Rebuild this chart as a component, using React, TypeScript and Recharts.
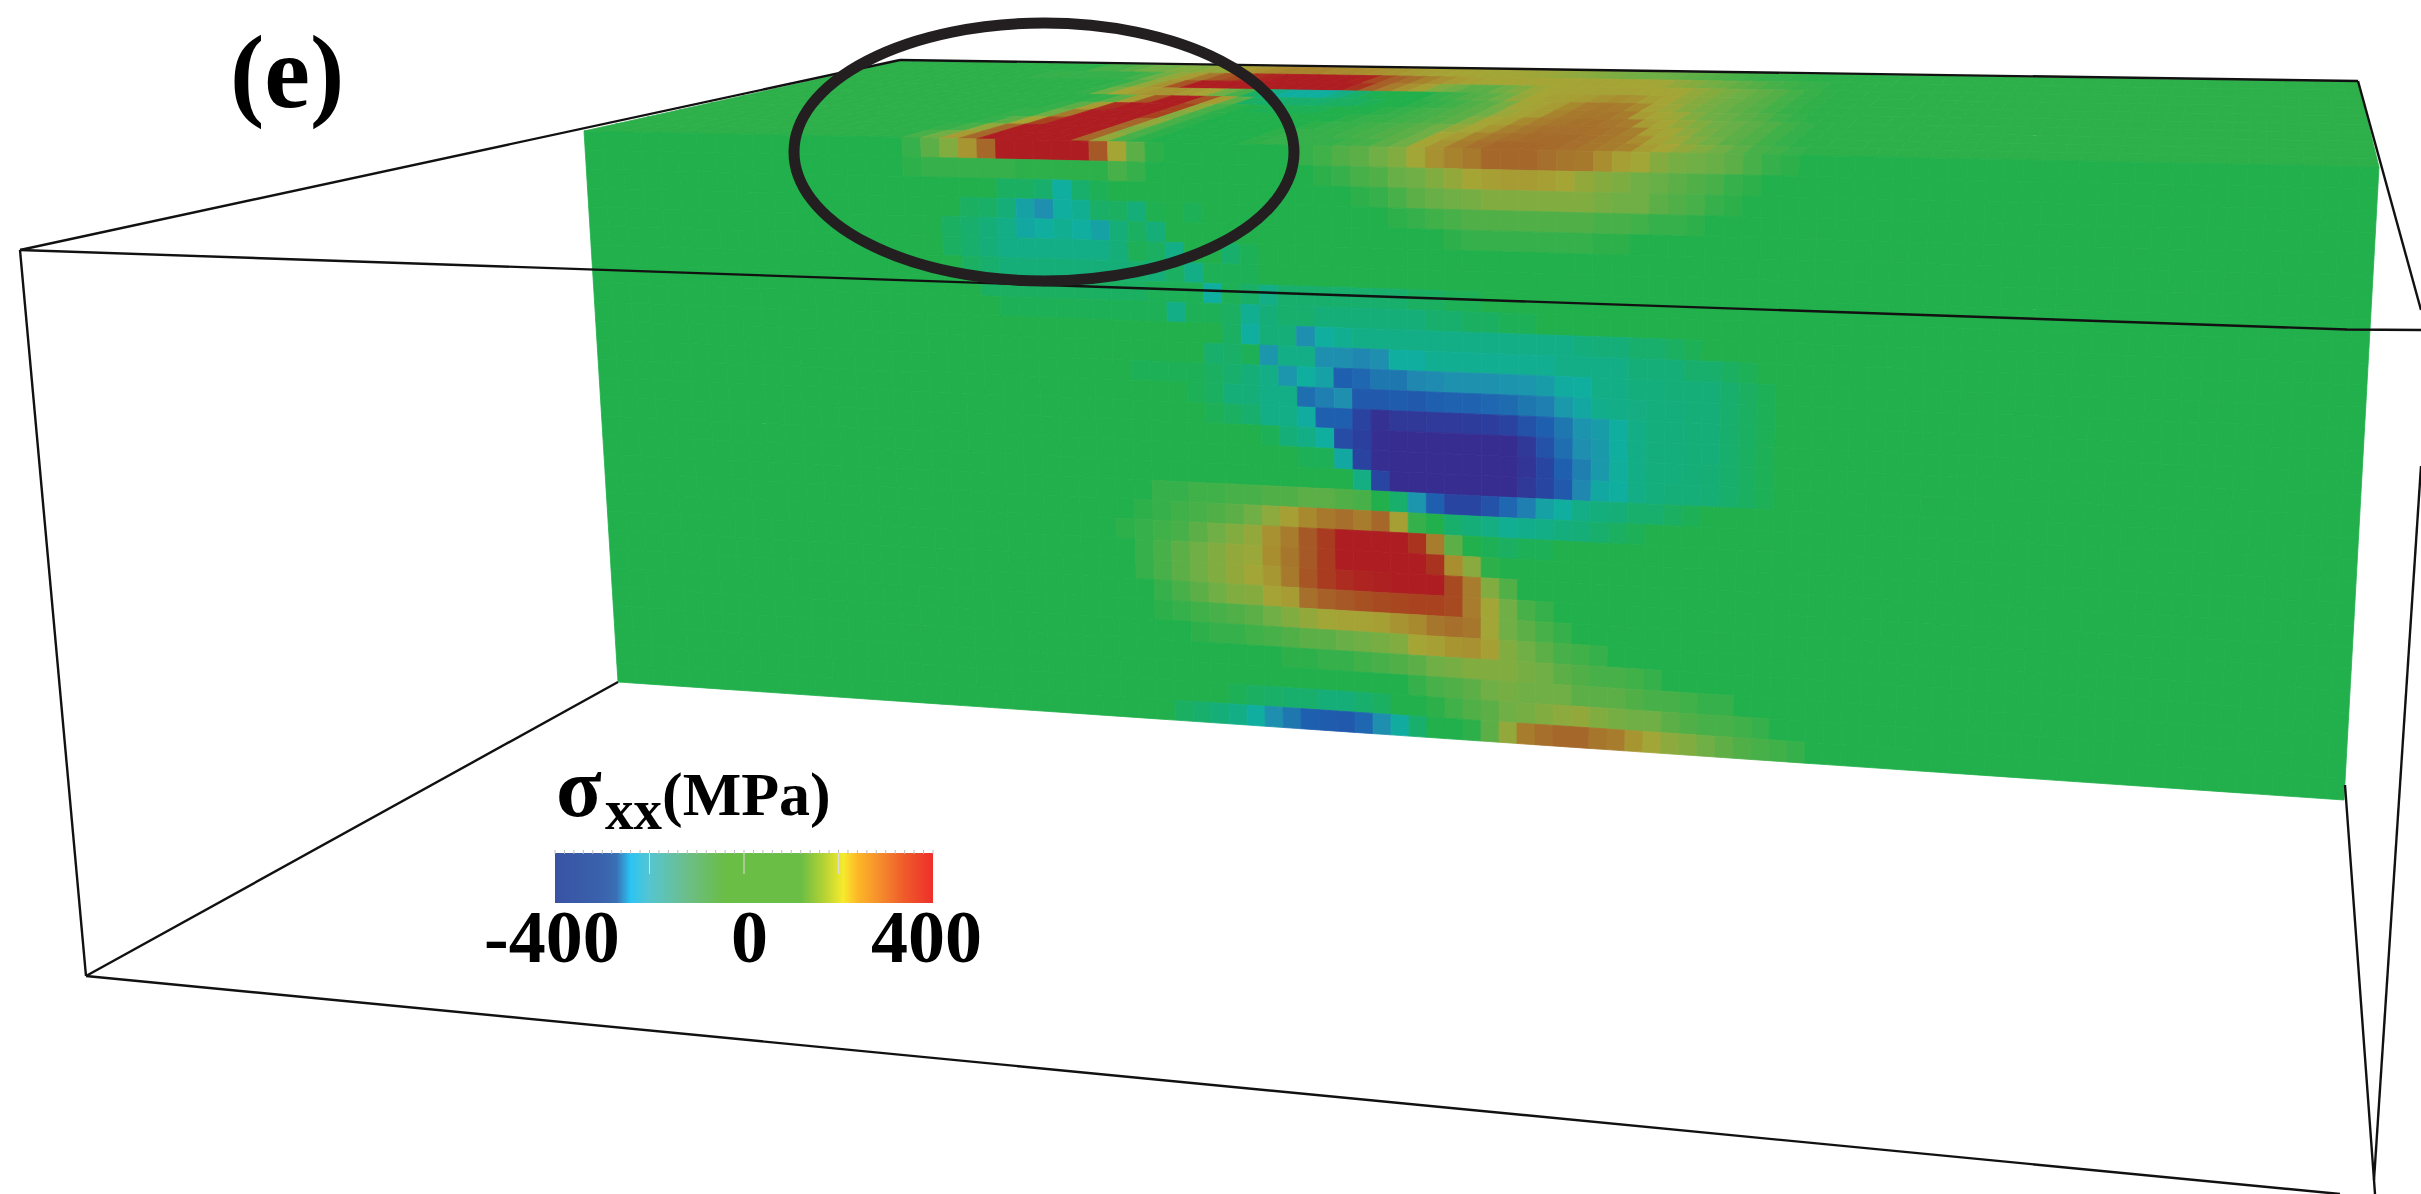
import React from 'react';
import { ScatterChart, Scatter, XAxis, YAxis, ReferenceArea } from 'recharts';

const W = 2421;
const H = 1194;

// colour scale of the field (MPa -> colour)
const fieldStops = [-400, -350, -300, -240, -175, -100, 0, 100, 175, 250, 300, 350, 400];
const fieldColors = ['#372d90', '#2b3f9e', '#1f5fb0', '#1f8fb0', '#10ae9e', '#15ae78', '#21b04b', '#6faf45', '#a5a536', '#a88a2e', '#a5682a', '#a8421f', '#ae1d22'];

// colour bar of the legend
const legendStops = [-400, -300, -270, -240, -200, -120, -40, 120, 170, 210, 240, 290, 340, 400];
const legendColors = ['#3953a4', '#3a62ad', '#3a70b5', '#2bc4f3', '#56c5d0', '#6cbe88', '#6abd45', '#6abd45', '#b5d334', '#f6eb2c', '#fdb827', '#f58a2c', '#ef5a2a', '#ee2f2a'];
const legendTicks = [-400, -380, -360, -340, -320, -300, -280, -260, -240, -220, -200, -180, -160, -140, -120, -100, -80, -60, -40, -20, 0, 20, 40, 60, 80, 100, 120, 140, 160, 180, 200, 220, 240, 260, 280, 300, 320, 340, 360, 380, 400];
const legendMajor = [-200, 0, 200];

// wireframe corners, in view units
const frontTop = [{ x: 20, y: 250 }, { x: 2347, y: 329.5 }, { x: 2421, y: 330 }];
const leftSlope = [{ x: 20, y: 250 }, { x: 900, y: 60 }];
const backTop = [{ x: 900, y: 60 }, { x: 2358, y: 81 }];
const rightSlope = [{ x: 2358, y: 81 }, { x: 2421, y: 310 }];
const frontLeft = [{ x: 20, y: 250 }, { x: 86, y: 976 }];
const floorLeft = [{ x: 86, y: 976 }, { x: 618, y: 682 }];
const frontBottom = [{ x: 86, y: 976 }, { x: 2340, y: 1194 }];
const backRight = [{ x: 2345, y: 785 }, { x: 2374, y: 1180 }, { x: 2375, y: 1194 }];
const frontRight = [{ x: 2421, y: 466 }, { x: 2374, y: 1180 }];
const wireEdges = [frontTop, leftSlope, backTop, rightSlope, frontLeft, floorLeft, frontBottom, backRight, frontRight];

// stress on the top face, rows back to front. topStart = first mesh column of each row
const topStart = [14, 12, 18, 18, 20, 19, 18, 18, 17, 16];
const top0 = [50, 50, 75, 100, 100, 125, 125, 150, 150, 200, 225, 250, 260, 260, 260, 250, 250, 240, 230, 220, 200, 190, 180, 175, 175, 170, 170, 170, 165, 160, 150, 140, 130, 120, 110, 100, 100, 90, 80, 70, 60, 50, 40, 30, 25, 20];
const top1 = [25, 25, 25, 25, 25, 25, 50, 100, 150, 200, 275, 320, 340, 375, 390, 400, 400, 400, 400, 400, 390, 340, 310, 290, 260, 230, 200, 185, 175, 175, 175, 175, 175, 175, 180, 180, 180, 175, 175, 170, 150, 130, 110, 95, 80, 65, 50, 40, 30, 25];
const top2 = [25, 75, 150, 225, 325, 400, 400, 400, 400, 400, 400, 400, 400, 400, 400, 370, 310, 270, 230, 190, 125, 100, 75, 75, 100, 125, 160, 175, 180, 180, 180, 180, 180, 175, 175, 170, 150, 130, 110, 95, 80, 65, 45, 30, 20];
const top3 = [25, 100, 175, 200, 225, 225, 200, 175, 100, 50, -50, -125, -175, -175, -175, -125, -75, -25, 0, 0, 0, 25, 40, 60, 75, 100, 150, 175, 185, 190, 200, 225, 240, 225, 190, 175, 150, 130, 110, 95, 80, 65, 45, 30, 20];
const top4 = [25, 75, 200, 325, 400, 400, 325, 200, 75, -50, -75, -75, -75, -75, -50, -50, -25, 0, 0, 15, 25, 40, 60, 75, 110, 170, 180, 200, 250, 270, 275, 270, 250, 180, 160, 130, 110, 95, 80, 65, 45, 30, 20];
const top5 = [25, 75, 200, 375, 400, 400, 400, 350, 150, 50, 15, 0, -25, -25, -25, -25, 0, 0, 0, 15, 25, 40, 50, 60, 75, 100, 160, 180, 200, 260, 275, 280, 280, 270, 200, 175, 160, 125, 100, 90, 75, 60, 40, 25];
const top6 = [25, 25, 100, 275, 400, 400, 400, 400, 350, 125, 50, 15, 0, 0, 0, 0, 0, 0, 0, 15, 25, 30, 40, 50, 60, 75, 125, 175, 190, 250, 270, 280, 285, 285, 280, 270, 200, 175, 150, 125, 100, 90, 75, 60, 40, 25];
const top7 = [25, 75, 175, 350, 400, 400, 400, 400, 300, 150, 50, 15, 0, 0, 0, 0, 0, 0, 15, 25, 30, 40, 50, 60, 75, 100, 150, 175, 220, 265, 280, 290, 290, 290, 285, 280, 265, 190, 170, 140, 110, 90, 75, 60, 40, 25];
const top8 = [25, 50, 150, 300, 400, 400, 400, 400, 400, 300, 125, 50, 15, 0, 0, 0, 0, 0, 15, 25, 25, 30, 40, 50, 60, 75, 100, 175, 200, 260, 280, 290, 295, 295, 295, 290, 280, 270, 240, 180, 160, 125, 100, 75, 60, 40, 25];
const top9 = [15, 50, 100, 200, 300, 400, 400, 400, 400, 400, 300, 150, 50, 15, 0, 0, 0, 0, 0, 15, 25, 25, 25, 25, 40, 50, 75, 100, 175, 225, 270, 290, 300, 300, 300, 295, 290, 280, 270, 260, 200, 175, 150, 125, 100, 75, 50, 40, 25];
const topRows = [top0, top1, top2, top3, top4, top5, top6, top7, top8, top9];

// stress on the long side face, rows top to bottom. sideStart = first mesh column of each row
const sideStart = [17, 17, 22, 20, 19, 19, 20, 21, 22, 34, 33, 29, 32, 33, 35, 38, 40, 30, 29, 28, 29, 29, 30, 30, 32, 37, 44, 34, 31];
const side00 = [25, 75, 125, 220, 300, 400, 400, 400, 400, 400, 320, 175, 75, 15, 0, 0, 0, 0, 0, 0, 0, 25, 40, 60, 75, 100, 125, 170, 230, 260, 275, 300, 300, 300, 290, 280, 275, 240, 190, 170, 130, 110, 100, 90, 75, 50, 25, 15];
const side01 = [15, 25, 25, 25, 25, 25, 15, 15, 15, 15, 15, 50, 25, 0, 0, 0, 0, 0, 0, 0, 0, 0, 15, 25, 50, 60, 90, 100, 125, 150, 175, 190, 200, 200, 190, 175, 150, 130, 120, 100, 90, 75, 60, 50, 25, 15];
const side02 = [-50, -50, -75, -175, -75, -25, 0, 0, 0, 0, 0, 0, 0, 0, 0, 0, 0, 0, 0, 15, 25, 50, 75, 90, 100, 110, 125, 125, 125, 125, 125, 125, 110, 100, 100, 75, 60, 50, 25, 15];
const side03 = [-50, -60, -100, -200, -240, -175, -150, -60, -50, -100, -15, 0, -25, 0, 0, 0, 0, 0, 0, 0, 0, 0, 0, 15, 25, 40, 50, 60, 60, 60, 60, 60, 60, 60, 50, 50, 40, 25, 25, 15];
const side04 = [-50, -75, -100, -125, -190, -175, -150, -175, -200, -100, -50, -100, 0, 0, 0, 0, 0, 0, 0, 0, 0, 0, 0, 0, 0, 0, 0, 15, 25, 25, 25, 25, 25, 25, 25, 15, 15];
const side05 = [-50, -75, -100, -125, -125, -125, -125, -125, -125, -100, -25, -50, -125, 0, 0, -75, -25];
const side06 = [-50, -75, -100, -100, -100, -100, -100, -100, -100, -75, -100, -50, -125, -25, -25, -25];
const side07 = [-50, -50, -50, -50, -50, -50, -50, -50, -50, -25, -25, -25, -175, -25, -60, -125, -75, -75, -75, -75, -75, -75, -75, -50, -50, -25, -25];
const side08 = [-25, -25, -25, -25, -25, -25, -25, -25, -25, -125, -25, -25, -50, -150, -100, -75, -75, -100, -100, -100, -100, -100, -100, -75, -75, -50, -50, -25, -25];
const side09 = [-50, -175, -100, -100, -240, -175, -150, -125, -125, -125, -125, -125, -125, -125, -125, -125, -125, -125, -125, -110, -100, -100, -75, -75, -50, -25];
const side10 = [-75, -60, -25, -225, -125, -125, -240, -240, -250, -240, -175, -175, -150, -150, -150, -150, -150, -150, -150, -125, -125, -125, -125, -100, -100, -100, -75, -75, -50, -25];
const side11 = [-25, -25, -25, -25, -50, -75, -100, -125, -225, -175, -200, -300, -290, -270, -270, -250, -245, -235, -235, -235, -230, -225, -210, -180, -175, -125, -125, -110, -110, -100, -100, -100, -75, -50, -25];
const side12 = [-25, -50, -100, -100, -125, -125, -280, -260, -240, -310, -310, -305, -310, -300, -295, -295, -290, -285, -270, -260, -220, -190, -140, -130, -120, -110, -110, -100, -100, -75, -50, -25];
const side13 = [-25, -50, -75, -125, -125, -180, -300, -300, -345, -390, -370, -370, -365, -365, -360, -355, -345, -320, -300, -270, -230, -210, -175, -125, -110, -110, -100, -100, -75, -50, -25];
const side14 = [0, -25, -100, -125, -175, -330, -350, -395, -400, -400, -400, -400, -400, -400, -400, -370, -320, -280, -240, -220, -175, -125, -110, -110, -100, -100, -75, -50, -25];
const side15 = [-25, -25, -190, -345, -395, -400, -400, -400, -400, -400, -400, -400, -380, -340, -300, -260, -220, -170, -125, -110, -110, -100, -90, -75, -50, -25];
const side16 = [0, -120, -340, -400, -400, -400, -400, -400, -400, -400, -370, -340, -310, -250, -190, -175, -125, -110, -100, -100, -90, -75, -50, -25];
const side17 = [25, 25, 40, 40, 50, 50, 60, 60, 75, 75, 60, 50, 0, -75, -225, -300, -340, -340, -320, -290, -260, -200, -175, -125, -110, -100, -75, -75, -50, -25];
const side18 = [15, 25, 40, 50, 60, 75, 100, 140, 190, 250, 275, 290, 270, 300, 190, 25, 0, -75, -100, -120, -150, -140, -125, -110, -100, -75, -50, -25];
const side19 = [15, 25, 40, 50, 75, 100, 125, 150, 230, 270, 320, 360, 400, 400, 400, 400, 370, 270, 75, 0, -25, -50, -25, -25];
const side20 = [25, 50, 75, 100, 125, 150, 160, 240, 280, 320, 360, 400, 400, 400, 400, 400, 370, 240, 135, 15];
const side21 = [25, 50, 75, 100, 125, 150, 170, 215, 275, 325, 360, 380, 390, 395, 400, 400, 400, 340, 270, 125, 60];
const side22 = [25, 50, 75, 100, 125, 130, 180, 200, 290, 310, 320, 330, 340, 345, 350, 350, 340, 270, 170, 100, 50, 25];
const side23 = [15, 25, 40, 50, 60, 75, 100, 125, 150, 170, 180, 180, 190, 225, 250, 280, 290, 280, 170, 100, 75, 50, 25];
const side24 = [15, 25, 25, 40, 50, 60, 75, 75, 90, 100, 110, 125, 175, 190, 220, 230, 190, 125, 100, 75, 50, 40, 25];
const side25 = [15, 15, 25, 25, 40, 50, 60, 75, 100, 110, 125, 125, 125, 110, 100, 75, 60, 50, 50, 40, 25];
const side26 = [25, 50, 60, 75, 100, 110, 100, 100, 100, 75, 75, 75, 60, 50, 50, 40, 25, 25];
const side27 = [-25, -50, -60, -75, -75, -100, -100, -75, -50, 0, 0, 15, 40, 60, 75, 100, 110, 125, 140, 150, 125, 110, 100, 100, 75, 60, 50, 50, 40, 25];
const side28 = [-50, -75, -100, -125, -175, -240, -270, -300, -305, -310, -290, -240, -180, -75, 0, 0, 15, 75, 150, 270, 290, 300, 300, 280, 270, 220, 170, 140, 125, 100, 80, 60, 50, 40, 25];
const sideRows = [side00, side01, side02, side03, side04, side05, side06, side07, side08, side09, side10, side11, side12, side13, side14, side15, side16, side17, side18, side19, side20, side21, side22, side23, side24, side25, side26, side27, side28];

const COLS = 96;

const mix = (a: string, b: string, t: number) => {
  const ch = (s: string, i: number) => parseInt(s.slice(1 + i * 2, 3 + i * 2), 16);
  const out = [0, 1, 2].map((i) => Math.round(ch(a, i) + (ch(b, i) - ch(a, i)) * t));
  return `rgb(${out[0]},${out[1]},${out[2]})`;
};

const stressColor = (v: number) => {
  let i = 0;
  while (i < fieldStops.length - 2 && v > fieldStops[i + 1]) i++;
  const t = (v - fieldStops[i]) / (fieldStops[i + 1] - fieldStops[i]);
  return mix(fieldColors[i], fieldColors[i + 1], Math.max(0, Math.min(1, t)));
};

type P = { x: number; y: number };
const bilinear = (tl: P, tr: P, bl: P, br: P, u: number, v: number): P => ({
  x: (1 - v) * ((1 - u) * tl.x + u * tr.x) + v * ((1 - u) * bl.x + u * br.x),
  y: (1 - v) * ((1 - u) * tl.y + u * tr.y) + v * ((1 - u) * bl.y + u * br.y),
});

// place the stress tables on the two visible faces of the block
const faceCells = (rows: number[][], starts: number[], base: number, tl: P, tr: P, bl: P, br: P) => {
  const cells: any[] = [];
  rows.forEach((row, j) => {
    for (let c = 0; c < COLS; c++) {
      const value = row[c - starts[j]] ?? base;
      const pos = (cu: number, cv: number) => bilinear(tl, tr, bl, br, (c + cu) / COLS, (j + cv) / rows.length);
      const mid = pos(0.5, 0.5);
      const corners = [pos(0, 0), pos(1, 0), pos(1, 1), pos(0, 1)].map((p) => ({ dx: p.x - mid.x, dy: p.y - mid.y }));
      cells.push({ x: mid.x, y: mid.y, value, corners });
    }
  });
  return cells;
};

const topCells = faceCells(topRows, topStart, 15, { x: 900, y: 61 }, { x: 2358, y: 82 }, { x: 584, y: 131 }, { x: 2379, y: 167 });
const sideCells = faceCells(sideRows, sideStart, 0, { x: 584, y: 131 }, { x: 2379, y: 167 }, { x: 618, y: 682 }, { x: 2344, y: 800 });

// stroke in the fill colour closes the hairline seams between cells
const CellShape = ({ cx, cy, payload }: any) => {
  const pts = payload.corners.map((c: any) => `${cx + c.dx},${cy + c.dy}`).join(' ');
  const fill = stressColor(payload.value);
  return <polygon points={pts} fill={fill} stroke={fill} strokeWidth={0.8} strokeLinejoin="round" />;
};

// colour bar runs over these view units
const BAR_X0 = 555;
const BAR_X1 = 933;
const barX = (mpa: number) => BAR_X0 + ((mpa + 400) / 800) * (BAR_X1 - BAR_X0);
const minorTickData = legendTicks.map((t) => ({ x: barX(t), y: 853 }));
const majorTickData = legendMajor.map((t) => ({ x: barX(t), y: 853 }));

const serif = '"Liberation Serif", "Times New Roman", serif';
const labelStyle = { fontFamily: serif, fontWeight: 700, fill: '#000' };

export default function App() {
  return (
    <div style={{ position: 'absolute', left: 0, top: 0, width: W, height: H, background: '#fff' }}>
      <ScatterChart width={W} height={H} margin={{ top: 0, right: 0, bottom: 0, left: 0 }}>
        <defs>
          <linearGradient id="stressBar" x1="0" y1="0" x2="1" y2="0">
            {legendStops.map((s, i) => (
              <stop key={s} offset={(s + 400) / 800} stopColor={legendColors[i]} />
            ))}
          </linearGradient>
        </defs>
        <XAxis type="number" dataKey="x" domain={[0, W]} hide allowDataOverflow />
        <YAxis type="number" dataKey="y" domain={[0, H]} reversed hide allowDataOverflow />

        <Scatter data={topCells} shape={CellShape} isAnimationActive={false} />
        <Scatter data={sideCells} shape={CellShape} isAnimationActive={false} />

        {wireEdges.map((edge, i) => (
          <Scatter
            key={i}
            data={edge}
            line={{ stroke: '#111', strokeWidth: 2.4 }}
            shape={() => null}
            isAnimationActive={false}
          />
        ))}

        {/* highlighted region */}
        <Scatter
          data={[{ x: 1044, y: 152 }]}
          shape={({ cx, cy }: any) => (
            <ellipse cx={cx} cy={cy} rx={250} ry={129} fill="none" stroke="#231f20" strokeWidth={11} />
          )}
          isAnimationActive={false}
        />

        <ReferenceArea x1={BAR_X0} x2={BAR_X1} y1={853} y2={903} fill="url(#stressBar)" fillOpacity={1} stroke="none" />
        <Scatter
          data={minorTickData}
          shape={({ cx, cy }: any) => <line x1={cx} x2={cx} y1={cy - 3} y2={cy + 1} stroke="#bbb" strokeWidth={1} />}
          isAnimationActive={false}
        />
        <Scatter
          data={majorTickData}
          shape={({ cx, cy }: any) => <line x1={cx} x2={cx} y1={cy} y2={cy + 21} stroke="#ddd" strokeWidth={1} />}
          isAnimationActive={false}
        />

        <text x={230} y={107} fontSize={103} {...labelStyle}>(e)</text>
        <text x={556} y={816} fontSize={84} {...labelStyle}>σ</text>
        <text x={605} y={829} fontSize={57} {...labelStyle}>xx</text>
        <text x={662} y={815} fontSize={62} {...labelStyle}>(MPa)</text>
        <text x={484} y={962} fontSize={74} {...labelStyle}>-400</text>
        <text x={731} y={962} fontSize={74} {...labelStyle}>0</text>
        <text x={871} y={962} fontSize={74} {...labelStyle}>400</text>
      </ScatterChart>
    </div>
  );
}
